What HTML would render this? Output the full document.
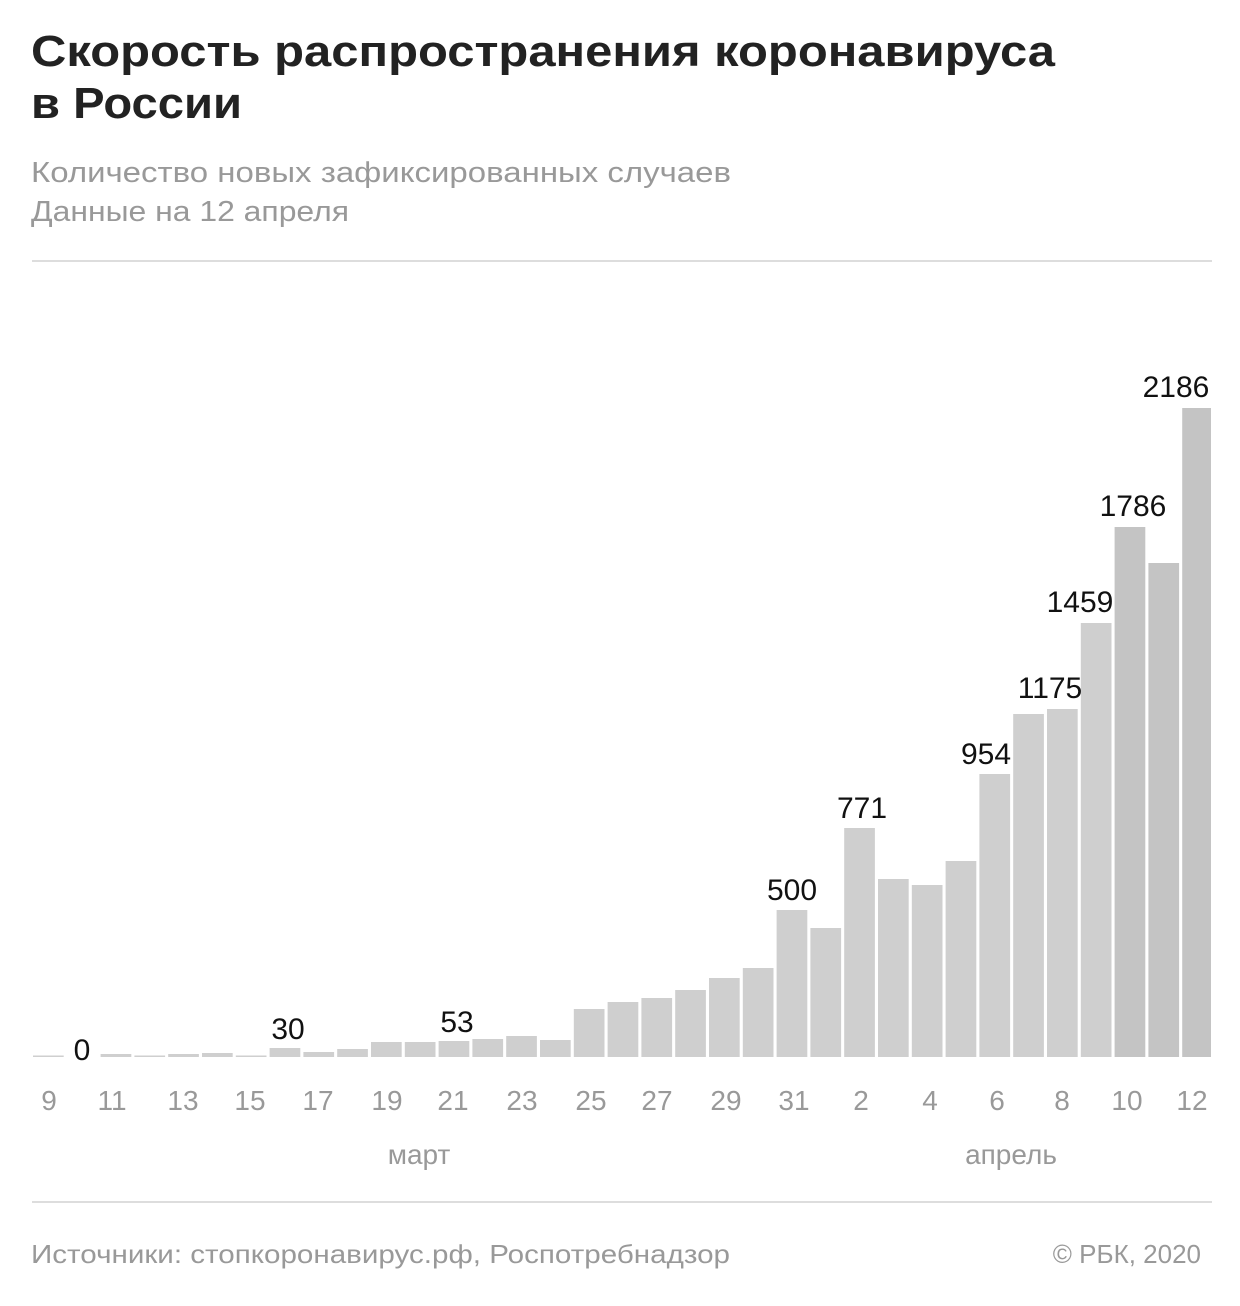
<!DOCTYPE html>
<html><head><meta charset="utf-8"><style>body{margin:0;background:#fff}svg{display:block}</style></head>
<body>
<svg width="1240" height="1306" xmlns="http://www.w3.org/2000/svg" font-family="Liberation Sans, sans-serif">
<text x="31" y="66" font-size="44" font-weight="bold" fill="#222" textLength="1024" lengthAdjust="spacingAndGlyphs">Скорость распространения коронавируса</text>
<text x="31" y="118" font-size="44" font-weight="bold" fill="#222" textLength="211" lengthAdjust="spacingAndGlyphs">в России</text>
<text x="31" y="182" font-size="29" fill="#999" textLength="700" lengthAdjust="spacingAndGlyphs">Количество новых зафиксированных случаев</text>
<text x="31" y="221" font-size="29" fill="#999" textLength="318" lengthAdjust="spacingAndGlyphs">Данные на 12 апреля</text>
<rect x="32" y="260" width="1180" height="2" fill="#ddd"/>
<rect x="32" y="1201" width="1180" height="2" fill="#ddd"/>
<g fill="#cfcfcf">
<rect x="33.0" y="1055.5" width="30.7" height="1.5"/>
<rect x="100.6" y="1054" width="30.7" height="3"/>
<rect x="134.4" y="1055.5" width="30.7" height="1.5"/>
<rect x="168.2" y="1054" width="30.7" height="3"/>
<rect x="202.0" y="1053" width="30.7" height="4"/>
<rect x="235.8" y="1055.5" width="30.7" height="1.5"/>
<rect x="269.6" y="1048" width="30.7" height="9"/>
<rect x="303.4" y="1052" width="30.7" height="5"/>
<rect x="337.2" y="1049" width="30.7" height="8"/>
<rect x="371.0" y="1042" width="30.7" height="15"/>
<rect x="404.8" y="1042" width="30.7" height="15"/>
<rect x="438.6" y="1041" width="30.7" height="16"/>
<rect x="472.4" y="1039" width="30.7" height="18"/>
<rect x="506.2" y="1036" width="30.7" height="21"/>
<rect x="540.0" y="1040" width="30.7" height="17"/>
<rect x="573.8" y="1009" width="30.7" height="48"/>
<rect x="607.6" y="1002" width="30.7" height="55"/>
<rect x="641.4" y="998" width="30.7" height="59"/>
<rect x="675.2" y="990" width="30.7" height="67"/>
<rect x="709.0" y="978" width="30.7" height="79"/>
<rect x="742.8" y="968" width="30.7" height="89"/>
<rect x="776.6" y="910" width="30.7" height="147"/>
<rect x="810.4" y="928" width="30.7" height="129"/>
<rect x="844.2" y="828" width="30.7" height="229"/>
<rect x="878.0" y="879" width="30.7" height="178"/>
<rect x="911.8" y="885" width="30.7" height="172"/>
<rect x="945.6" y="861" width="30.7" height="196"/>
<rect x="979.4" y="774" width="30.7" height="283"/>
<rect x="1013.2" y="714" width="30.7" height="343"/>
<rect x="1047.0" y="709" width="30.7" height="348"/>
<rect x="1080.8" y="623" width="30.7" height="434"/>
</g>
<g fill="#c4c4c4">
<rect x="1114.6" y="527" width="30.7" height="530"/>
<rect x="1148.4" y="563" width="30.7" height="494"/>
<rect x="1182.2" y="408" width="28.8" height="649"/>
</g>
<g font-size="30" fill="#111" text-anchor="middle">
<text x="82" y="1060">0</text>
<text x="288" y="1039">30</text>
<text x="457" y="1032">53</text>
<text x="792" y="900">500</text>
<text x="862" y="818">771</text>
<text x="986" y="764">954</text>
<text x="1050" y="698">1175</text>
<text x="1080" y="612">1459</text>
<text x="1133" y="516">1786</text>
<text x="1176" y="397">2186</text>
</g>
<g font-size="28" fill="#999" text-anchor="middle">
<text x="49" y="1110">9</text><text x="112" y="1110">11</text><text x="183" y="1110">13</text><text x="250" y="1110">15</text><text x="318" y="1110">17</text><text x="387" y="1110">19</text><text x="453" y="1110">21</text><text x="522" y="1110">23</text><text x="591" y="1110">25</text><text x="657" y="1110">27</text><text x="726" y="1110">29</text><text x="794" y="1110">31</text><text x="861" y="1110">2</text><text x="930" y="1110">4</text><text x="997" y="1110">6</text><text x="1062" y="1110">8</text><text x="1127" y="1110">10</text><text x="1192" y="1110">12</text>
<text x="419" y="1164">март</text><text x="1011" y="1164">апрель</text>
</g>
<text x="31" y="1263" font-size="26" fill="#999" textLength="699" lengthAdjust="spacingAndGlyphs">Источники: стопкоронавирус.рф, Роспотребнадзор</text>
<text x="1201" y="1263" font-size="26" fill="#999" text-anchor="end">© РБК, 2020</text>
</svg>
</body></html>
